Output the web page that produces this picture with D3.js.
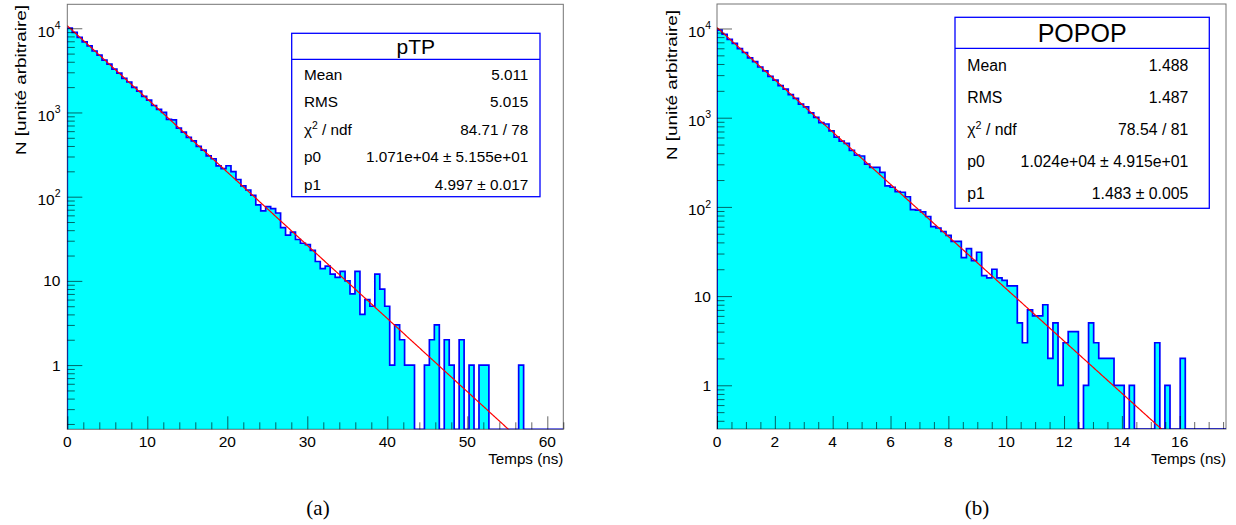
<!DOCTYPE html>
<html><head><meta charset="utf-8">
<script src="https://cdn.jsdelivr.net/npm/d3@7"></script>
<style>html,body{margin:0;padding:0;background:#fff;} svg{display:block;}</style>
</head><body>
<svg id="c" width="1236" height="525"></svg>
<script>
// ---------- data ----------
const countsA = [10030, 8950, 7800, 6900, 6180, 5370, 4800, 4190, 3760, 3270,
 2930, 2540, 2300, 1990, 1790, 1550, 1400, 1210, 1090, 1000,
 830, 815, 650, 585, 505, 460, 395, 357, 305, 282,
 232, 215, 233, 198, 160, 134, 120, 104, 80, 68,
 76, 72, 64, 43, 35, 38, 31, 28, 27, 23,
 17, 14, 15, 12, 11, 13, 10, 7, 13, 4,
 6, 5, 12, 8, 5, 1, 3, 2, 1, 1,
 0, 0, 1, 2, 3, 0, 2, 1, 0, 2,
 0, 1, 0, 1, 1, 0, 0, 0, 0, 0,
 0, 1, 0, 0, 0, 0, 0, 0, 0, 0];
const countsB = [9600, 8620, 7560, 6800, 5950, 5380, 4690, 4250, 3700, 3350,
 2910, 2640, 2290, 2090, 1810, 1650, 1420, 1320, 1130, 1010,
 880, 850, 710, 605, 545, 515, 430, 380, 372, 302,
 278, 278, 244, 172, 166, 148, 146, 130, 93, 92,
 88, 78, 60, 58, 53, 48, 41, 41, 27, 34,
 25, 31, 17, 16, 20, 16, 15, 13, 13, 5,
 3, 7, 6, 6, 8, 2, 5, 1, 3, 4,
 4, 0, 1, 5, 3, 2, 2, 2, 1, 1,
 0, 1, 0, 0, 0, 0, 3, 0, 1, 0,
 0, 2, 0, 0, 0, 0, 0, 0, 0, 0];
const xRangeA = [0, 62];
const xRangeB = [0, 17.6];
const yRangeA = [0.1728, 19250];
const yRangeB = [0.3236, 18820];
const fitParamsA = [10710, 4.997];
const fitParamsB = [10240, 1.483];
const titles = ["pTP", "POPOP"];
const captions = ["(a)", "(b)"];
const statLabels = ["Mean", "RMS", "χ2 / ndf", "p0", "p1"];
const statValuesA = ["5.011", "5.015", "84.71 / 78", "1.071e+04 ± 5.155e+01", "4.997 ± 0.017"];
const statValuesB = ["1.488", "1.487", "78.54 / 81", "1.024e+04 ± 4.915e+01", "1.483 ± 0.005"];
const xTicksA = [0, 10, 20, 30, 40, 50, 60];
const xTicksB = [0, 2, 4, 6, 8, 10, 12, 14, 16];
const xMinorStepA = 2;
const xMinorStepB = 0.5;
const yTickValues = [1, 10, 100, 1000, 10000];
const yTickBase = ["1", "10", "10", "10", "10"];
const yTickExp = ["", "", "2", "3", "4"];
const xTitle = "Temps (ns)";
const yTitle = "N [unité arbitraire]";

// ---------- drawing ----------
const svg = d3.select("#c");
const FONT = "'Liberation Sans', Arial, Helvetica, sans-serif";

const panels = [
  {counts: countsA, xr: xRangeA, yr: yRangeA, fit: fitParamsA, xt: xTicksA, minor: xMinorStepA,
   stats: statValuesA, title: titles[0], caption: captions[0],
   left: 67.3, right: 563.3, top: 4.3, bottom: 429.3, ylabX: 60.5, ytitX: 20.5, ytitTop: 5,
   box: {x0: 291.7, x1: 540, y0: 33.3, y1: 196.7, sep: 59.3, tx0: 304, tx1: 528.3, fs: 15.3, tfs: 21},
   capX: 318},
  {counts: countsB, xr: xRangeB, yr: yRangeB, fit: fitParamsB, xt: xTicksB, minor: xMinorStepB,
   stats: statValuesB, title: titles[1], caption: captions[1],
   left: 717, right: 1226, top: 4, bottom: 429, ylabX: 711, ytitX: 671.5, ytitTop: 10,
   box: {x0: 955, x1: 1209.3, y0: 17.3, y1: 208.3, sep: 48.3, tx0: 967.3, tx1: 1188.3, fs: 15.8, tfs: 25},
   capX: 977}
];

panels.forEach((p, pi) => {
  const g = svg.append("g");
  const x = d3.scaleLinear().domain(p.xr).range([p.left, p.right]);
  const y = d3.scaleLog().domain(p.yr).range([p.bottom, p.top]);
  const clipId = "clip" + pi;
  svg.append("defs").append("clipPath").attr("id", clipId)
    .append("rect").attr("x", p.left).attr("y", p.top)
    .attr("width", p.right - p.left).attr("height", p.bottom - p.top);

  // histogram
  const n = p.counts.length;
  const w = (p.xr[1] - p.xr[0]) / n;
  const pts = [[x(p.xr[0]), p.bottom]];
  p.counts.forEach((c, i) => {
    const yy = c > 0 ? y(c) : p.bottom;
    pts.push([x(p.xr[0] + i * w), yy], [x(p.xr[0] + (i + 1) * w), yy]);
  });
  pts.push([x(p.xr[1]), p.bottom]);
  g.append("path").attr("d", d3.line()(pts))
    .attr("fill", "#00ffff").attr("stroke", "#0000ff").attr("stroke-width", 1.7)
    .attr("stroke-linejoin", "miter")
    .attr("clip-path", `url(#${clipId})`);

  // fit
  const fx = d3.range(0, 401).map(i => p.xr[0] + (p.xr[1] - p.xr[0]) * i / 400);
  const fpts = fx.map(v => [x(v), y(p.fit[0] * Math.exp(-v / p.fit[1]))]);
  g.append("path").attr("d", d3.line()(fpts))
    .attr("fill", "none").attr("stroke", "#ff0000").attr("stroke-width", 1.2)
    .attr("clip-path", `url(#${clipId})`);

  // frame
  g.append("rect").attr("x", p.left).attr("y", p.top)
    .attr("width", p.right - p.left).attr("height", p.bottom - p.top)
    .attr("fill", "none").attr("stroke", "#000").attr("stroke-opacity", 0.55).attr("stroke-width", 1);

  // x ticks
  const xMinor = d3.range(p.xr[0], p.xr[1] + 1e-9, p.minor).filter(v => !p.xt.some(t => Math.abs(t - v) < 1e-9));
  const axStyle = sel => { sel.select(".domain").remove(); sel.selectAll("line").attr("stroke", "#000").attr("stroke-opacity", 0.6); };
  g.append("g").attr("transform", `translate(0,${p.bottom})`)
    .call(d3.axisBottom(x).tickValues(xMinor).tickSize(-7).tickFormat("")).call(axStyle);
  g.append("g").attr("transform", `translate(0,${p.bottom})`)
    .call(d3.axisBottom(x).tickValues(p.xt).tickSize(-13).tickFormat("")).call(axStyle);
  g.selectAll(null).data(p.xt).enter().append("text")
    .attr("x", d => x(d)).attr("y", 441).attr("text-anchor", "middle")
    .attr("dominant-baseline", "central").attr("font-family", FONT).attr("font-size", 15.5)
    .text(d => d);

  // y ticks
  const yMinor = [];
  for (let e = -1; e <= 4; e++) for (let m = 2; m <= 9; m++) {
    const v = m * Math.pow(10, e);
    if (v >= p.yr[0] && v <= p.yr[1]) yMinor.push(v);
  }
  g.append("g").attr("transform", `translate(${p.left},0)`)
    .call(d3.axisLeft(y).tickValues(yMinor).tickSize(-7.5).tickFormat("")).call(axStyle);
  g.append("g").attr("transform", `translate(${p.left},0)`)
    .call(d3.axisLeft(y).tickValues(yTickValues).tickSize(-15).tickFormat("")).call(axStyle);
  yTickValues.forEach((v, i) => {
    const sup = yTickExp[i];
    const yy = y(v) + (sup ? 2.7 : 0) + 0.358 * 15.5;
    const t = g.append("text").attr("x", p.ylabX).attr("y", yy).attr("text-anchor", "end")
      .attr("font-family", FONT).attr("font-size", 15.5).text(yTickBase[i]);
    if (sup) t.append("tspan").attr("font-size", 10.5).attr("dy", -7.5).text(sup);
  });

  // axis titles
  g.append("text").attr("x", p.right).attr("y", 458).attr("text-anchor", "end")
    .attr("dominant-baseline", "central").attr("font-family", FONT).attr("font-size", 15.2).text(xTitle);
  g.append("text").attr("transform", `translate(${p.ytitX},${p.ytitTop}) rotate(-90)`)
    .attr("text-anchor", "end").attr("dominant-baseline", "central")
    .attr("font-family", FONT).attr("font-size", 14.5)
    .attr("textLength", 150).attr("lengthAdjust", "spacingAndGlyphs").text(yTitle);

  // stats box
  const b = p.box;
  g.append("rect").attr("x", b.x0).attr("y", b.y0).attr("width", b.x1 - b.x0).attr("height", b.y1 - b.y0)
    .attr("fill", "#fff").attr("stroke", "#0000ff").attr("stroke-width", 1.3);
  g.append("line").attr("x1", b.x0).attr("x2", b.x1).attr("y1", b.sep).attr("y2", b.sep)
    .attr("stroke", "#0000ff").attr("stroke-width", 1.3);
  g.append("text").attr("x", (b.x0 + b.x1) / 2).attr("y", (b.y0 + b.sep) / 2 + 0.5)
    .attr("text-anchor", "middle").attr("dominant-baseline", "central")
    .attr("font-family", FONT).attr("font-size", b.tfs).text(p.title);
  const rowH = (b.y1 - b.sep) / statLabels.length;
  statLabels.forEach((lab, i) => {
    const cy = b.sep + rowH * (i + 0.5) + 1.5;
    const base = cy + 0.358 * b.fs;
    const t = g.append("text").attr("x", b.tx0).attr("y", base)
      .attr("font-family", FONT).attr("font-size", b.fs);
    if (lab.startsWith("χ2")) {
      t.append("tspan").text("χ");
      t.append("tspan").attr("font-size", b.fs * 0.68).attr("dy", -6).text("2");
      t.append("tspan").attr("dy", 6).text(lab.slice(2));
    } else t.text(lab);
    g.append("text").attr("x", b.tx1).attr("y", base).attr("text-anchor", "end")
      .attr("font-family", FONT).attr("font-size", b.fs).text(p.stats[i]);
  });

  // caption
  g.append("text").attr("x", p.capX).attr("y", 508).attr("text-anchor", "middle")
    .attr("dominant-baseline", "central").attr("font-family", "'Liberation Serif', 'DejaVu Serif', serif")
    .attr("font-size", 21).text(p.caption);
});
</script>
</body></html>
